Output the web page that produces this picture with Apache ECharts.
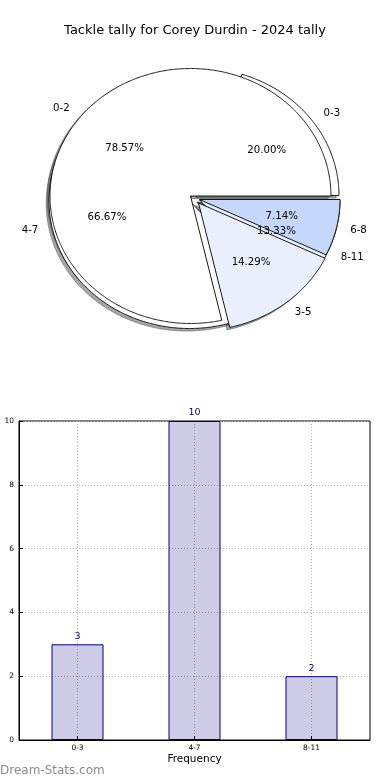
<!DOCTYPE html>
<html><head><meta charset="utf-8">
<script src="https://cdn.jsdelivr.net/npm/echarts@6/dist/echarts.min.js"></script>
<style>html,body{margin:0;padding:0;background:#fff}#c{width:390px;height:780px}</style>
</head><body><div id="c"></div>
<script>
// ---- data ----
const chartTitle = 'Tackle tally for Corey Durdin - 2024 tally';
const innerLabels = ['0-2', '3-5', '6-8'];
const innerValues = [11, 2, 1];
const outerLabels = ['0-3', '4-7', '8-11'];
const outerValues = [3, 10, 2];
const barCategories = ['0-3', '4-7', '8-11'];
const barValues = [3, 10, 2];
const yTicks = [0, 2, 4, 6, 8, 10];

// ---- style ----
const FONT = 'DejaVu Sans';
const RX = 140.5, RY = 127.5;            // px per unit of pie radius
const innerColors = ['#ffffff', '#e9effd', '#c5d8fc'];
const outerColors = ['#ffffff', '#ffffff', '#e9effd'];
const innerShift = [[0, 0], [8, 7], [9, 3.5]];     // px right, px down
const outerShift = [[8, -0.5], [-1, 5], [9, 4]];
const SHADOW = [-0.02, -0.02];

function buildWedges(labels, values, colors, shifts) {
  const total = values.reduce((a, b) => a + b, 0);
  let acc = 0;
  return values.map((v, i) => {
    const a0 = acc / total * 360; acc += v; const a1 = acc / total * 360;
    return { label: labels[i], pct: v / total * 100, a0, a1, color: colors[i],
      ox: shifts[i][0] / RX, oy: -shifts[i][1] / RY };
  });
}
const inner = buildWedges(innerLabels, innerValues, innerColors, innerShift);
const outer = buildWedges(outerLabels, outerValues, outerColors, outerShift);

function shadowColor(hex) {
  const n = parseInt(hex.slice(1), 16);
  const r = Math.round(((n >> 16) & 255) * 0.3), g = Math.round(((n >> 8) & 255) * 0.3), b = Math.round((n & 255) * 0.3);
  return `rgba(${r},${g},${b},0.5)`;
}

function wedgePoints(w, api, dx, dy) {
  const cx = w.ox + dx, cy = w.oy + dy;
  const pts = [api.coord([cx, cy])];
  const steps = Math.max(8, Math.ceil((w.a1 - w.a0) / 0.5));
  for (let k = 0; k <= steps; k++) {
    const t = (w.a0 + (w.a1 - w.a0) * k / steps) * Math.PI / 180;
    pts.push(api.coord([cx + Math.cos(t), cy + Math.sin(t)]));
  }
  return pts;
}

function wedgeSeries(list, z, isShadow) {
  return {
    type: 'custom', xAxisIndex: 0, yAxisIndex: 0, z, silent: true, clip: false,
    data: list.map((w, i) => [i, 0]),
    renderItem: (params, api) => {
      const w = list[params.dataIndex];
      if (isShadow) {
        const c = shadowColor(w.color);
        return { type: 'polygon', shape: { points: wedgePoints(w, api, SHADOW[0], SHADOW[1]) },
          style: { fill: c, stroke: c, lineWidth: 1 } };
      }
      return { type: 'polygon', shape: { points: wedgePoints(w, api, 0, 0) },
        style: { fill: w.color, stroke: '#000', lineWidth: 0.9, lineJoin: 'miter' } };
    }
  };
}

const labelItems = [];
[outer, inner].forEach(list => list.forEach(w => {
  const m = (w.a0 + w.a1) / 2 * Math.PI / 180;
  labelItems.push({ text: w.label, x: w.ox + 1.1 * Math.cos(m), y: w.oy + 1.1 * Math.sin(m),
    align: Math.cos(m) > 0 ? 'left' : 'right' });
  labelItems.push({ text: w.pct.toFixed(2) + '%', x: w.ox + 0.6 * Math.cos(m), y: w.oy + 0.6 * Math.sin(m),
    align: 'center' });
}));

const labelSeries = {
  type: 'custom', xAxisIndex: 0, yAxisIndex: 0, z: 10, silent: true, clip: false,
  data: labelItems.map((l, i) => [i, 0]),
  renderItem: (params, api) => {
    const l = labelItems[params.dataIndex];
    const p = api.coord([l.x, l.y]);
    return { type: 'text', x: p[0], y: p[1],
      style: { text: l.text, fill: '#000', fontSize: 10.2, fontFamily: FONT,
        align: l.align, verticalAlign: 'middle', textAlign: l.align, textVerticalAlign: 'middle' } };
  }
};

const chart = echarts.init(document.getElementById('c'), null, { renderer: 'canvas' });
chart.setOption({
  animation: false,
  backgroundColor: '#fff',
  title: { text: chartTitle, left: 'center', top: 24, padding: 0,
    textStyle: { fontFamily: FONT, fontSize: 13, fontWeight: 'normal', color: '#000' } },
  graphic: [{ type: 'text', left: 0, top: 765,
    style: { text: 'Dream-Stats.com', fill: '#8c8c8c', fontSize: 12, fontFamily: FONT } }],
  grid: [
    { left: 0.825, top: 17.5, width: 379.35, height: 357, show: false, outerBoundsMode: 'none', containLabel: false },
    { left: 19, right: 20, top: 421, height: 319, show: true, borderColor: '#000', borderWidth: 1,
      backgroundColor: 'transparent', outerBoundsMode: 'none', containLabel: false }
  ],
  xAxis: [
    { type: 'value', gridIndex: 0, min: -1.35, max: 1.35, show: false },
    { type: 'category', gridIndex: 1, data: barCategories,
      name: 'Frequency', nameLocation: 'middle', nameGap: 14,
      nameTextStyle: { fontFamily: FONT, fontSize: 10.5, color: '#000' },
      axisLine: { lineStyle: { color: '#000', width: 1 } },
      axisTick: { show: true, inside: true, alignWithLabel: true, length: 4, lineStyle: { color: '#000' } },
      axisLabel: { fontFamily: FONT, fontSize: 7.5, color: '#000', margin: 4 },
      splitLine: { show: true, alignWithLabel: true, lineStyle: { color: '#b0b0b0', type: [1, 2], width: 1 } } }
  ],
  yAxis: [
    { type: 'value', gridIndex: 0, min: -1.4, max: 1.4, show: false },
    { type: 'value', gridIndex: 1, min: yTicks[0], max: yTicks[yTicks.length - 1], interval: 2,
      name: 'Number of Games', nameLocation: 'middle', nameGap: 20,
      nameTextStyle: { fontFamily: FONT, fontSize: 10, color: '#000' },
      axisLine: { show: true, lineStyle: { color: '#000', width: 1 } },
      axisTick: { show: true, inside: true, length: 4, lineStyle: { color: '#000' } },
      axisLabel: { fontFamily: FONT, fontSize: 7.5, color: '#000', margin: 5 },
      splitLine: { show: true, lineStyle: { color: '#b0b0b0', type: [1, 2], width: 1 } } }
  ],
  series: [
    wedgeSeries(outer, 1, true),
    wedgeSeries(inner, 1, true),
    wedgeSeries(outer, 2, false),
    wedgeSeries(inner, 3, false),
    labelSeries,
    { type: 'bar', xAxisIndex: 1, yAxisIndex: 1, data: barValues, barWidth: 52,
      itemStyle: { color: 'rgba(0,0,128,0.2)', borderColor: '#000080', borderWidth: 1 },
      label: { show: true, position: 'top', distance: 3, color: '#000080', fontFamily: FONT, fontSize: 9.5 } }
  ]
});
</script></body></html>
